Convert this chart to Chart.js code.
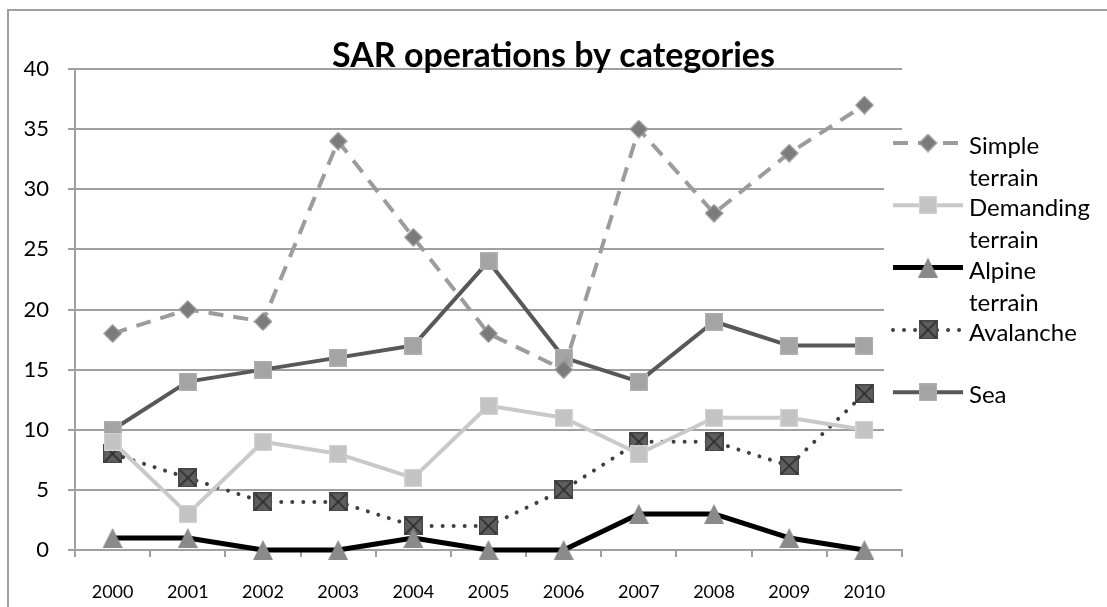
<!DOCTYPE html>
<html>
<head>
<meta charset="utf-8">
<script src="https://cdn.jsdelivr.net/npm/chart.js@4/dist/chart.umd.min.js"></script>
<style>
  html, body { margin: 0; padding: 0; background: #ffffff; }
  #wrap { width: 1107px; height: 607px; }
</style>
</head>
<body>
<div id="wrap"><canvas id="c" width="1107" height="607"></canvas></div>
<script>
// ---- data ----
const years = ['2000','2001','2002','2003','2004','2005','2006','2007','2008','2009','2010'];
const simpleTerrain    = [18, 20, 19, 34, 26, 18, 15, 35, 28, 33, 37];
const demandingTerrain = [9, 3, 9, 8, 6, 12, 11, 8, 11, 11, 10];
const alpineTerrain    = [1, 1, 0, 0, 1, 0, 0, 3, 3, 1, 0];
const avalanche        = [8, 6, 4, 4, 2, 2, 5, 9, 9, 7, 13];
const sea              = [10, 14, 15, 16, 17, 24, 16, 14, 19, 17, 17];
const seriesNames = [['Simple','terrain'], ['Demanding','terrain'], ['Alpine','terrain'], ['Avalanche'], ['Sea']];
const titleText = 'SAR operations by categories';

// ---- marker images ----
function marker(kind, size, fill, stroke) {
  const c = document.createElement('canvas');
  c.width = size; c.height = size;
  const g = c.getContext('2d');
  g.fillStyle = fill; g.strokeStyle = stroke; g.lineWidth = 1.2;
  const s = size, h = s / 2;
  g.beginPath();
  if (kind === 'diamond') {
    g.moveTo(h, 0.8); g.lineTo(s - 0.8, h); g.lineTo(h, s - 0.8); g.lineTo(0.8, h); g.closePath();
    g.fill(); g.stroke();
  } else if (kind === 'square') {
    g.rect(0.6, 0.6, s - 1.2, s - 1.2); g.fill(); g.stroke();
  } else if (kind === 'triangle') {
    g.moveTo(h, 0); g.lineTo(s, s); g.lineTo(0, s); g.closePath(); g.fill();
  } else if (kind === 'xsquare') {
    g.rect(0.6, 0.6, s - 1.2, s - 1.2); g.fill(); g.stroke();
    g.beginPath(); g.lineWidth = 1.6; g.strokeStyle = '#2a2a2a';
    g.moveTo(1.5, 1.5); g.lineTo(s - 1.5, s - 1.5);
    g.moveTo(s - 1.5, 1.5); g.lineTo(1.5, s - 1.5); g.stroke();
  }
  return c;
}
const mkDiamond  = marker('diamond', 19, '#7b7b7b', '#9a9a9a');
const mkDemand   = marker('square', 18, '#c3c3c3', '#d2d2d2');
const mkTriangle = marker('triangle', 20, '#8a8a8a', '#8a8a8a');
const mkX        = marker('xsquare', 19, '#5e5e5e', '#444444');
const mkSea      = marker('square', 18, '#a4a4a4', '#b0b0b0');

const FONT = 'Lato, "Open Sans", sans-serif';

// ---- plugins ----
const framePlugin = {
  id: 'frame',
  beforeDraw(chart) {
    const ctx = chart.ctx;
    ctx.save();
    ctx.strokeStyle = '#a0a0a0';
    ctx.lineWidth = 2;
    ctx.strokeRect(8, 10, 1200, 700);
    ctx.restore();
  }
};

const legendPlugin = {
  id: 'customLegend',
  afterDraw(chart) {
    const ctx = chart.ctx;
    ctx.save();
    ctx.fillStyle = '#ffffff';
    ctx.fillRect(884, 131, 223, 320);
    const startY = 143, step = 62.3;
    chart.data.datasets.forEach((ds, i) => {
      const y = startY + i * step;
      ctx.save();
      ctx.strokeStyle = ds.borderColor;
      ctx.lineWidth = ds.borderWidth;
      ctx.lineCap = ds.borderCapStyle || 'butt';
      ctx.setLineDash(ds.borderDash || []);
      ctx.beginPath();
      ctx.moveTo(893, y); ctx.lineTo(963, y);
      ctx.stroke();
      ctx.restore();
      const img = ds.pointStyle;
      ctx.drawImage(img, 928 - img.width / 2, y - img.height / 2);
      ctx.fillStyle = '#000';
      ctx.font = '24px ' + FONT;
      ctx.textBaseline = 'alphabetic';
      ctx.textAlign = 'left';
      seriesNames[i].forEach((ln, j) => {
        ctx.fillText(ln, 969, y + 11 + j * 32);
      });
    });
    ctx.restore();
  }
};

// ---- chart ----
const mkDs = (label, data, color, width, img, dash, cap) => ({
  label, data,
  borderColor: color, backgroundColor: color,
  borderWidth: width, borderDash: dash || [], borderCapStyle: cap || 'butt',
  borderJoinStyle: 'round',
  pointStyle: img, pointRadius: 10, pointHoverRadius: 10,
  tension: 0, fill: false, clip: false
});

new Chart(document.getElementById('c'), {
  type: 'line',
  data: {
    labels: years,
    datasets: [
      mkDs('Simple terrain', simpleTerrain, '#9c9c9c', 4, mkDiamond, [15, 10]),
      mkDs('Demanding terrain', demandingTerrain, '#c9c9c9', 4, mkDemand),
      mkDs('Alpine terrain', alpineTerrain, '#000000', 5, mkTriangle),
      mkDs('Avalanche', avalanche, '#3f3f3f', 4, mkX, [0.01, 11], 'round'),
      mkDs('Sea', sea, '#585858', 4, mkSea)
    ]
  },
  options: {
    responsive: false,
    animation: false,
    events: [],
    layout: { padding: 0 },
    plugins: {
      legend: { display: false },
      tooltip: { enabled: false },
      title: {
        display: true,
        text: titleText,
        color: '#000',
        font: { family: FONT, size: 34, weight: 'bold', lineHeight: 1 },
        padding: { top: 39, bottom: -4 }
      }
    },
    scales: {
      x: {
        type: 'category',
        offset: true,
        grid: { offset: true, drawOnChartArea: false, drawTicks: true, tickLength: 7, color: '#a0a0a0', lineWidth: 2 },
        border: { display: true, color: '#a0a0a0', width: 2 },
        ticks: { color: '#000', font: { family: FONT, size: 18 }, padding: 24, maxRotation: 0, autoSkip: false },
        afterFit(s) { s.height = 57; }
      },
      y: {
        min: 0, max: 40,
        grid: { color: '#a0a0a0', lineWidth: 2, tickLength: 7, drawTicks: true },
        border: { display: true, color: '#a0a0a0', width: 2 },
        ticks: { stepSize: 5, color: '#000', font: { family: FONT, size: 22 }, padding: 19 },
        afterFit(s) { s.width = 75; }
      },
      legendSpace: {
        type: 'linear',
        position: 'right',
        display: true,
        grid: { display: false, drawOnChartArea: false },
        border: { display: false },
        ticks: { display: false },
        afterFit(s) { s.width = 205; }
      }
    }
  },
  plugins: [framePlugin, legendPlugin]
});
</script>
</body>
</html>
